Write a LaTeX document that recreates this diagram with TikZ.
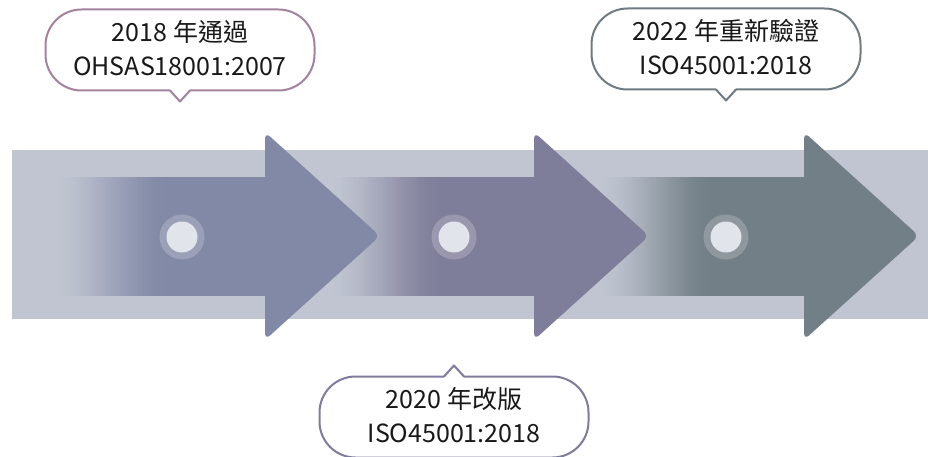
\documentclass[tikz,border=0pt]{standalone}
\usepackage{fontspec}
\newfontfamily\cjk{Noto Sans CJK TC}
\usetikzlibrary{calc}

\definecolor{band}{HTML}{C0C5D1}
\definecolor{arrA}{HTML}{8189A6}
\definecolor{arrB}{HTML}{7F7E9A}
\definecolor{arrC}{HTML}{727F86}
\definecolor{dot}{HTML}{E1E4EB}
\definecolor{lineA}{HTML}{A3829E}
\definecolor{lineB}{HTML}{7E7C9A}
\definecolor{lineC}{HTML}{6E7B82}

\tikzset{
  bubble/.style={draw=#1, fill=white, line width=2pt, rounded corners=36pt,
    minimum width=269pt, minimum height=81pt, inner sep=0pt, outer sep=0pt,
    align=center, font=\cjk\fontsize{25pt}{34pt}\selectfont, text=black!90,
    text depth=4pt},
  tail/.style={draw=#1, line width=2pt, line join=round},
  ring/.style={fill=white, fill opacity=0.2},
}

\begin{document}
\begin{tikzpicture}[x=1pt,y=-1pt]
\useasboundingbox (0,0) rectangle (928,457);
\clip (0,0) rectangle (928,457);

% background band
\fill[band] (12,150) rectangle (928,319);

% shafts, fading in from the band colour
\foreach \s/\e/\c in {52/270/arrA, 327/540/arrB, 597/810/arrC} {
  \foreach \i in {0,...,39} {
    \pgfmathsetmacro\t{(\i+0.5)/40}
    \pgfmathsetmacro\p{100*\t*\t*(3-2*\t)}
    \fill[\c!\p!band] (\s+\i*2.95,177) rectangle (\s+\i*2.95+3.2,296);
  }
  \fill[\c] (\s+118,177) rectangle (\e,296);
}

% heads
\begin{scope}[rounded corners=7pt]
\fill[arrA] (265,132) -- (380,236) -- (265,340) -- cycle;
\fill[arrB] (534,132) -- (649,236) -- (534,340) -- cycle;
\fill[arrC] (804,132) -- (919,236) -- (804,340) -- cycle;
\end{scope}

% dots
\fill[ring] (182,237) circle (22.5);
\fill[dot]  (182,237) circle (15.5);
\fill[ring] (454,237) circle (22.5);
\fill[dot]  (454,237) circle (15.5);
\fill[ring] (726,237) circle (22.5);
\fill[dot]  (726,237) circle (15.5);

% bubbles
\node[bubble=lineA] (y2018) at (180,50) {2018 年通過\\OHSAS18001:2007};
\node[bubble=lineC] (y2022) at (726,49) {2022 年重新驗證\\ISO45001:2018};
\node[bubble=lineB] (y2020) at (454,417) {2020 年改版\\ISO45001:2018};

\fill[white] ($(y2018.south)+(-10,-1.5)$) -- ($(y2018.south)+(0,11)$) -- ($(y2018.south)+(10,-1.5)$) -- cycle;
\draw[tail=lineA] ($(y2018.south)+(-10,0)$) -- ($(y2018.south)+(0,11)$) -- ($(y2018.south)+(10,0)$);
\fill[white] ($(y2022.south)+(-10,-1.5)$) -- ($(y2022.south)+(0,11)$) -- ($(y2022.south)+(10,-1.5)$) -- cycle;
\draw[tail=lineC] ($(y2022.south)+(-10,0)$) -- ($(y2022.south)+(0,11)$) -- ($(y2022.south)+(10,0)$);
\fill[white] ($(y2020.north)+(-10,1.5)$) -- ($(y2020.north)+(0,-11)$) -- ($(y2020.north)+(10,1.5)$) -- cycle;
\draw[tail=lineB] ($(y2020.north)+(-10,0)$) -- ($(y2020.north)+(0,-11)$) -- ($(y2020.north)+(10,0)$);

\end{tikzpicture}
\end{document}
